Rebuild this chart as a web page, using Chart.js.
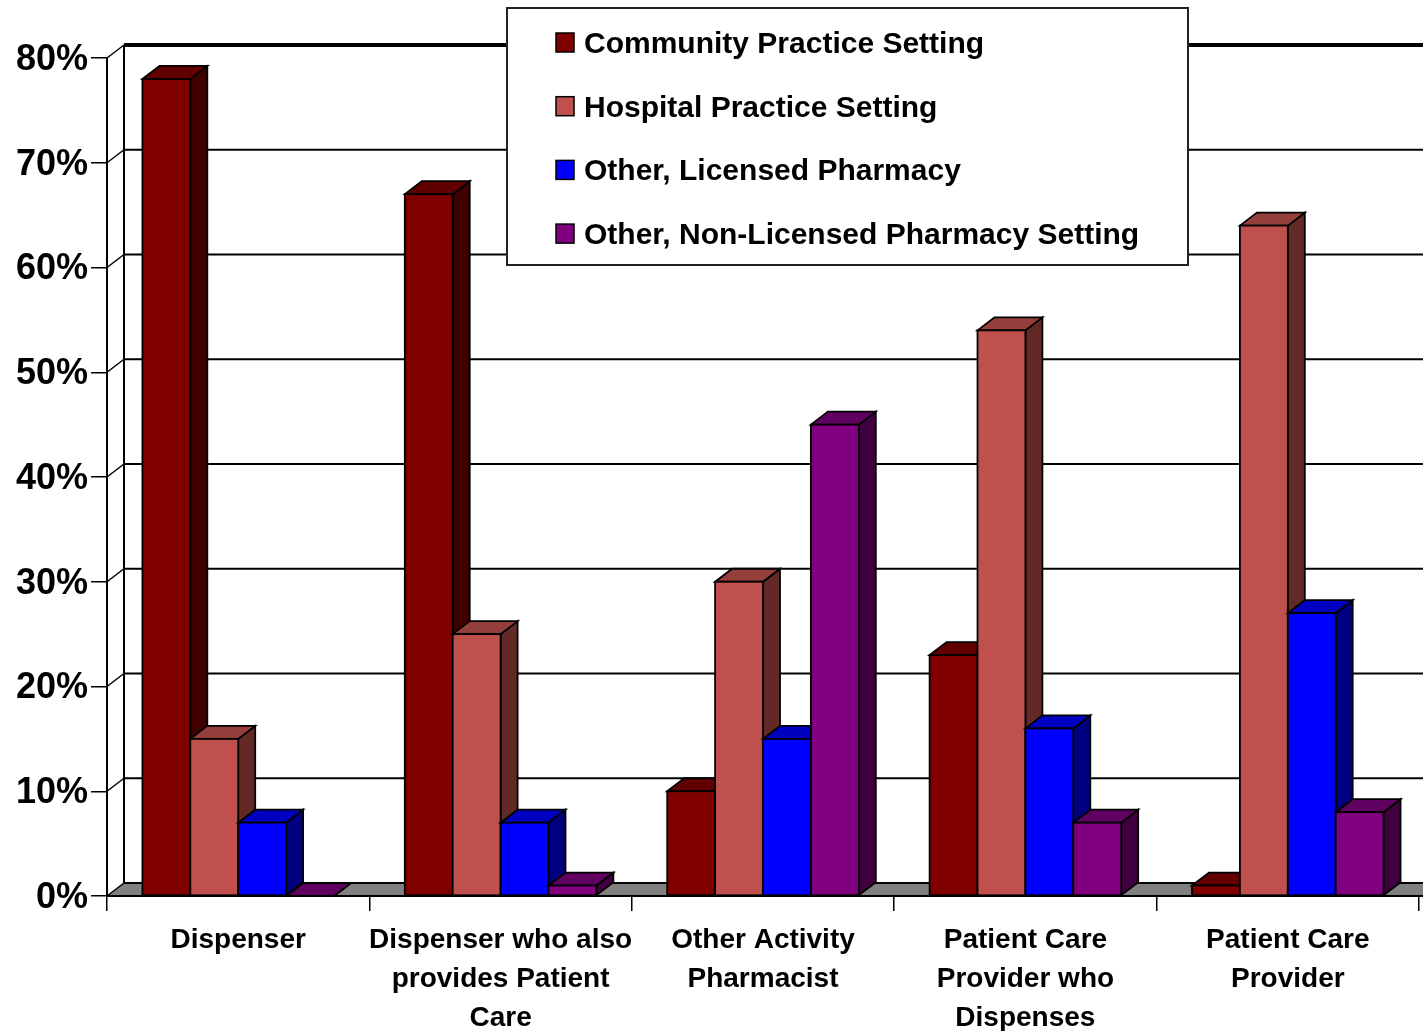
<!DOCTYPE html>
<html>
<head>
<meta charset="utf-8">
<script src="https://cdn.jsdelivr.net/npm/chart.js@4.4.1/dist/chart.umd.min.js"></script>
<style>
  body { margin: 0; background: #fff; }
  #wrap { width: 1423px; height: 1031px; }
</style>
</head>
<body>
<div id="wrap"><canvas id="myChart" width="1423" height="1031"></canvas></div>
<script>
// categories (x axis)
const categories = [
  ['Dispenser'],
  ['Dispenser who also', 'provides Patient', 'Care'],
  ['Other Activity', 'Pharmacist'],
  ['Patient Care', 'Provider who', 'Dispenses'],
  ['Patient Care', 'Provider']
];

// series names
const seriesNames = [
  'Community Practice Setting',
  'Hospital Practice Setting',
  'Other, Licensed Pharmacy',
  'Other, Non-Licensed Pharmacy Setting'
];

// values in %
const community   = [78, 67, 10, 23, 1];
const hospital    = [15, 25, 30, 54, 64];
const licensed    = [7, 7, 15, 16, 27];
const nonLicensed = [0, 1, 45, 7, 8];

// y axis ticks
const yTicks = [0, 10, 20, 30, 40, 50, 60, 70, 80];

// colours: front, top, side
const frontColors = ['#800000', '#C0504D', '#0000FF', '#800080'];
const topColors   = ['#600000', '#943F3C', '#0000C0', '#600060'];
const sideColors  = ['#400000', '#622926', '#000080', '#400040'];

const FONT = '"Liberation Sans", Arial, sans-serif';
const DX = 17, DY = 13;   // depth of the 3d effect

const bars3d = {
  id: 'bars3d',
  beforeDatasetsDraw(chart) {
    const ctx = chart.ctx;
    const {left, bottom} = chart.chartArea;
    const yScale = chart.scales.y;
    const W = chart.width;
    const yTop = yScale.getPixelForValue(yTicks[yTicks.length - 1]);
    ctx.save();
    ctx.strokeStyle = '#000';

    // floor
    ctx.fillStyle = '#808080';
    ctx.beginPath();
    ctx.moveTo(left, bottom);
    ctx.lineTo(left + DX, bottom - DY);
    ctx.lineTo(W, bottom - DY);
    ctx.lineTo(W, bottom);
    ctx.closePath();
    ctx.fill();

    // back wall grid + little diagonals on the left
    yTicks.forEach(function(v) {
      const py = yScale.getPixelForValue(v);
      ctx.lineWidth = v === yTicks[yTicks.length - 1] ? 4 : 2;
      ctx.beginPath();
      ctx.moveTo(left + DX, py - DY);
      ctx.lineTo(W, py - DY);
      ctx.stroke();
      ctx.lineWidth = 1.5;
      ctx.beginPath();
      ctx.moveTo(left, py);
      ctx.lineTo(left + DX, py - DY);
      ctx.stroke();
    });

    // walls
    ctx.lineWidth = 2;
    ctx.beginPath();
    ctx.moveTo(left + DX, yTop - DY);
    ctx.lineTo(left + DX, bottom - DY);
    ctx.moveTo(left, yTop);
    ctx.lineTo(left, bottom);
    ctx.moveTo(left, bottom);
    ctx.lineTo(W, bottom);
    ctx.stroke();
    ctx.restore();
  },
  beforeDatasetDraw() {
    return false; // bars are drawn below in 3d
  },
  afterDatasetsDraw(chart) {
    const ctx = chart.ctx;
    ctx.save();
    ctx.lineWidth = 1.8;
    ctx.strokeStyle = '#000';
    ctx.lineJoin = 'miter';
    for (let j = 0; j < categories.length; j++) {
      for (let i = 0; i < chart.data.datasets.length; i++) {
        const bar = chart.getDatasetMeta(i).data[j];
        const l = bar.x - bar.width / 2;
        const r = bar.x + bar.width / 2;
        const t = bar.y;
        const b = bar.base;

        // side
        ctx.fillStyle = sideColors[i];
        ctx.beginPath();
        ctx.moveTo(r, t);
        ctx.lineTo(r + DX, t - DY);
        ctx.lineTo(r + DX, b - DY);
        ctx.lineTo(r, b);
        ctx.closePath();
        ctx.fill();
        ctx.stroke();

        // top
        ctx.fillStyle = topColors[i];
        ctx.beginPath();
        ctx.moveTo(l, t);
        ctx.lineTo(l + DX, t - DY);
        ctx.lineTo(r + DX, t - DY);
        ctx.lineTo(r, t);
        ctx.closePath();
        ctx.fill();
        ctx.stroke();

        // front
        if (b - t > 0.5) {
          ctx.fillStyle = frontColors[i];
          ctx.fillRect(l, t, r - l, b - t);
          ctx.strokeRect(l, t, r - l, b - t);
        }
      }
    }
    ctx.restore();
  },
  afterDraw(chart) {
    // legend box
    const ctx = chart.ctx;
    ctx.save();
    ctx.fillStyle = '#fff';
    ctx.fillRect(507, 8, 681, 257);
    ctx.strokeStyle = '#222';
    ctx.lineWidth = 2;
    ctx.strokeRect(507, 8, 681, 257);
    ctx.font = 'bold 30px ' + FONT;
    ctx.textBaseline = 'alphabetic';
    chart.data.datasets.forEach(function(ds, i) {
      const base = 53 + i * 63.7;
      ctx.fillStyle = ds.backgroundColor;
      ctx.fillRect(556, base - 20, 18, 19);
      ctx.strokeStyle = '#000';
      ctx.lineWidth = 1.5;
      ctx.strokeRect(556, base - 20, 18, 19);
      ctx.fillStyle = '#000';
      ctx.fillText(ds.label, 584, base);
    });
    ctx.restore();
  }
};

const allValues = [community, hospital, licensed, nonLicensed];

const ctx = document.getElementById('myChart').getContext('2d');
const myChart = new Chart(ctx, {
  type: 'bar',
  data: {
    labels: categories,
    datasets: seriesNames.map(function(name, i) {
      return {
        label: name,
        data: allValues[i],
        backgroundColor: frontColors[i],
        borderWidth: 0,
        categoryPercentage: 0.73,
        barPercentage: 1.0
      };
    })
  },
  options: {
    responsive: false,
    animation: false,
    layout: { padding: { left: 16, top: 58, right: 4, bottom: 0 } },
    plugins: {
      legend: { display: false },
      tooltip: { enabled: false }
    },
    scales: {
      x: {
        border: { display: false },
        grid: {
          offset: true,
          drawOnChartArea: false,
          drawTicks: true,
          tickLength: 15,
          color: '#000',
          lineWidth: 1.5
        },
        ticks: {
          color: '#000',
          font: { family: FONT, size: 28, weight: 'bold', lineHeight: 1.39 },
          padding: 10,
          maxRotation: 0,
          autoSkip: false
        },
        afterFit: function(scale) { scale.height = 135; }
      },
      y: {
        min: 0,
        max: 80,
        border: { display: false },
        grid: {
          drawOnChartArea: false,
          drawTicks: true,
          tickLength: 16,
          color: '#000',
          lineWidth: 1.5
        },
        ticks: {
          stepSize: 10,
          color: '#000',
          padding: 3,
          labelOffset: 2,
          font: { family: FONT, size: 36, weight: 'bold' },
          callback: function(v) { return v + '%'; }
        },
        afterFit: function(scale) { scale.width = 91; }
      }
    }
  },
  plugins: [bars3d]
});
</script>
</body>
</html>
